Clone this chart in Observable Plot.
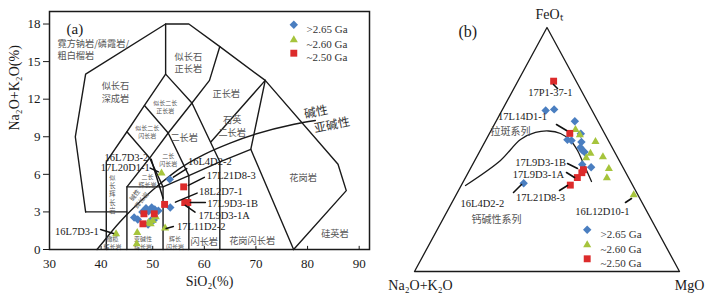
<!DOCTYPE html>
<html><head><meta charset="utf-8">
<script src="https://cdn.jsdelivr.net/npm/d3@7"></script>
<script src="https://cdn.jsdelivr.net/npm/@observablehq/plot@0.6"></script>
<style>
body{margin:0;background:#fff;}
#wrap{position:relative;width:712px;height:297px;overflow:hidden;background:#fff;}
#wrap svg{position:absolute;top:0;overflow:visible;}
</style></head><body><div id="wrap"></div>
<script>
// ---------------- shared ----------------
const groups = [">2.65 Ga", "~2.60 Ga", "~2.50 Ga"];
const groupColors = ["#4a7ec0", "#a6c43c", "#dc2b2b"];
const groupSymbols = ["diamond2", "triangle", "square"];
const groupR = [3.8, 3.0, 3.9];

// ---------------- panel (a): TAS ----------------
const xTicks = [30, 40, 50, 60, 70, 80, 90];
const yTicks = [0, 3, 6, 9, 12, 15, 18];

const oldSiO2 = [53.3, 53.4, 46.4, 47.1, 48.7, 49.2, 49.8, 50.4, 51.1, 48.0, 49.6, 50.2, 49.1];
const oldAlk  = [5.6, 3.35, 2.55, 2.4, 3.3, 3.05, 3.35, 3.2, 3.1, 3.0, 2.3, 2.35, 2.0];
const midSiO2 = [51.7, 52.4, 42.9, 47.0, 46.9, 49.2, 49.6, 50.0, 50.6];
const midAlk  = [6.1, 1.7, 1.25, 1.35, 0.45, 2.15, 2.05, 2.3, 2.6];
const youngSiO2 = [56.0, 52.3, 56.2, 56.8, 48.3, 50.3, 48.1];
const youngAlk  = [5.0, 3.6, 3.75, 3.75, 2.85, 2.85, 2.05];

// Middlemost (1994) plutonic TAS field boundaries (SiO2, Na2O+K2O)
const tasBoundaries = [
  [[37,3],[35,9],[37,14],[52.5,18],[57,18],[63,16.2],[71.8,13.5],[85.9,6.8],[87.5,4.7],[77.3,0]],
  [[41,0],[41,7],[45,9.4],[48.4,11.5],[52.5,14],[52.5,18]],
  [[37,3],[45,3]],
  [[45,0],[45,5],[49.4,7.3],[53,9.3],[57.6,11.7],[61,13.5],[63,16.2]],
  [[45,9.4],[49.4,7.3]],
  [[48.4,11.5],[53,9.3]],
  [[52.5,14],[57.6,11.7]],
  [[45,5],[52,5],[57,5.9],[63,7],[69,8],[71.8,13.5]],
  [[52,0],[52,5],[49.4,7.3]],
  [[57,0],[57,5.9],[53,9.3]],
  [[63,0],[63,7],[57.6,11.7]],
  [[69,8],[77.3,0]],
  [[71.8,13.5],[61.3,8.6]]
];
// alkaline / subalkaline divide
const irvineSiO2 = [39.2, 40, 43.2, 45, 48, 50, 53.7, 55, 60, 65, 77.4, 81.5];
const irvineAlk  = [0, 0.4, 2.0, 2.8, 4.0, 4.75, 6.0, 6.4, 7.6, 8.5, 10.0, 10.3];

const tasSampleLabels = [
  {t:"16L7D3-2", x:44.9, y:7.36}, {t:"17L20D1-1", x:44.7, y:6.56},
  {t:"16L4D2-2", x:61.05, y:7.04}, {t:"17L21D8-3", x:65.2, y:5.92},
  {t:"18L2D7-1", x:63.2, y:4.64}, {t:"17L9D3-1B", x:65.5, y:3.68},
  {t:"17L9D3-1A", x:63.85, y:2.72}, {t:"17L11D2-2", x:59.4, y:1.84},
  {t:"16L7D3-1", x:35.3, y:1.44}
];
const tasLeaders = [
  [[49.7,7.2],[52.0,4.1]], [[49.5,6.5],[51.1,6.2]],
  [[54.0,5.78],[56.6,6.46]], [[56.9,5.12],[60.0,5.76]],
  [[54.4,3.78],[58.6,4.5]], [[57.3,3.76],[60.2,3.76]],
  [[56.3,3.52],[58.2,2.98]], [[52.6,1.68],[54.0,1.84]],
  [[39.9,1.6],[42.4,1.28]]
];
const fieldNamesStart = [{t:"霓方钠岩/磷霞岩/\n粗白榴岩", x:31.55, y:16.0}];
const fieldNamesL = [
  {t:"似长石\n深成岩", x:42.77, y:12.6},
  {t:"似长石\n正长岩", x:56.9, y:14.96},
  {t:"二长岩", x:56.1, y:8.96},
  {t:"正长岩", x:64.24, y:12.48},
  {t:"石英\n二长岩", x:65.4, y:9.88},
  {t:"花岗岩", x:79.13, y:5.76},
  {t:"硅英岩", x:85.3, y:1.28},
  {t:"花岗闪长岩", x:69.26, y:0.72},
  {t:"闪长岩", x:59.98, y:0.64}
];
const fieldNamesS = [
  {t:"似长二长\n正长岩", x:52.44, y:11.44},
  {t:"似长二长\n闪长岩", x:48.96, y:9.4},
  {t:"橄榄\n辉长岩", x:42.2, y:0.55},
  {t:"辉长\n闪长岩", x:54.3, y:0.6},
  {t:"亚碱性\n辉长岩", x:48.1, y:0.6},
  {t:"二长\n辉长岩", x:49.0, y:5.5},
  {t:"二长\n闪长岩", x:53.0, y:7.2}
];
const fieldNamesV = [{t:"似\n长\n辉\n长\n岩", x:42.2, y:4.45}];
const fieldNamesR = [{t:"碱性\n辉长岩", x:47.1, y:4.15}];
const seriesNamesA = [{t:"碱性", x:81.64, y:10.96}, {t:"亚碱性", x:84.74, y:9.92}];

const serif = "'Liberation Serif','Times New Roman',serif";
const cjk = "'Noto Sans CJK SC','Noto Sans',sans-serif";

function pts(xs, ys) { return xs.map((x, i) => ({x, y: ys[i]})); }
const tasSets = [pts(oldSiO2, oldAlk), pts(midSiO2, midAlk), pts(youngSiO2, youngAlk)];
const boundaryRows = tasBoundaries.flatMap((l, i) => l.map(p => ({x: p[0], y: p[1], z: i})));
const leaderRowsA = tasLeaders.flatMap((l, i) => l.map(p => ({x: p[0], y: p[1], z: i})));

const legendDyA = [13.3, 28.3, 41.7];

const plotA = Plot.plot({
  width: 372, height: 297,
  marginLeft: 49, marginRight: 3, marginTop: 11, marginBottom: 48,
  x: {domain: [30, 92]},
  y: {domain: [0, 19]},
  style: {fontFamily: serif, fontSize: "13px", color: "#1a1a1a", background: "transparent"},
  marks: [
    Plot.line(boundaryRows, {x: "x", y: "y", z: "z", stroke: "#1a1a1a", strokeWidth: 1.4}),
    Plot.line(pts(irvineSiO2, irvineAlk), {x: "x", y: "y", stroke: "#1a1a1a", strokeWidth: 1.4, curve: "monotone-x"}),
    Plot.text(fieldNamesStart, {x: "x", y: "y", text: "t", textAnchor: "start", fontFamily: cjk, fontSize: 9.2, fill: "#555", lineHeight: 1.36}),
    Plot.text(fieldNamesL, {x: "x", y: "y", text: "t", fontFamily: cjk, fontSize: 9.2, fill: "#555", lineHeight: 1.36}),
    Plot.text(fieldNamesS, {x: "x", y: "y", text: "t", fontFamily: cjk, fontSize: 6, fill: "#555", lineHeight: 1.35}),
    Plot.text(fieldNamesV, {x: "x", y: "y", text: "t", fontFamily: cjk, fontSize: 6.3, fill: "#555", lineHeight: 1.3}),
    Plot.text(fieldNamesR, {x: "x", y: "y", text: "t", fontFamily: cjk, fontSize: 6.3, fill: "#555", lineHeight: 1.35, rotate: -52}),
    Plot.text(seriesNamesA, {x: "x", y: "y", text: "t", fontFamily: cjk, fontSize: 12, fill: "#333", rotate: -11}),
    ...tasSets.map((d, g) => Plot.dot(d, {x: "x", y: "y", symbol: groupSymbols[g], fill: groupColors[g], r: groupR[g], stroke: "none"})),
    Plot.line(leaderRowsA, {x: "x", y: "y", z: "z", stroke: "#111", strokeWidth: 1.5}),
    Plot.text(tasSampleLabels, {x: "x", y: "y", text: "t", fontFamily: serif, fontSize: 10.5, fill: "#1a1a1a"}),
    Plot.ruleX(xTicks, {x: d => d, y1: 0, y2: 0.25, stroke: "#1a1a1a"}),
    Plot.frame({stroke: "#1a1a1a", strokeWidth: 1.5}),
    Plot.axisX({ticks: xTicks, tickSize: 0, tickPadding: 9, label: null, fontSize: 13}),
    Plot.axisY({ticks: yTicks, tickSize: 6, tickPadding: 3, label: null, fontSize: 13}),
    Plot.text(["SiO₂(%)"], {frameAnchor: "bottom", dy: 36, fontFamily: serif, fontSize: 14, fill: "#1a1a1a"}),
    Plot.text(["Na₂O+K₂O(%)"], {frameAnchor: "left", dx: -35, rotate: -90, fontFamily: serif, fontSize: 14, fill: "#1a1a1a"}),
    Plot.text(["(a)"], {frameAnchor: "top-left", dx: 17, dy: 12, fontFamily: serif, fontSize: 15, fill: "#1a1a1a"}),
    ...groups.flatMap((g, i) => [
      Plot.dot([g], {frameAnchor: "top-left", dx: 244.3, dy: legendDyA[i], symbol: groupSymbols[i], fill: groupColors[i], r: groupR[i]}),
      Plot.text([g], {frameAnchor: "top-left", dx: 257, dy: legendDyA[i], text: d => d, textAnchor: "start", fontFamily: serif, fontSize: 11, fill: "#333"})
    ])
  ]
});

// ---------------- panel (b): AFM ternary ----------------
// A = Na2O+K2O, F = FeOt, M = MgO (%)
const oldA = [17.5, 14.1, 8.7, 9.0, 15.3, 13.9, 10.5, 12.0, 11.8, 11.4, 14.8, 12.0, 40.7];
const oldF = [66.0, 66.5, 61.6, 56.4, 54.0, 53.7, 53.1, 50.8, 49.7, 49.0, 43.9, 42.7, 36.2];
const oldM = [16.5, 19.5, 29.7, 34.5, 30.7, 32.4, 36.5, 37.2, 38.5, 39.7, 41.4, 45.3, 23.1];
const midA = [10.2, 9.6, 5.1, 9.4, 11.9, 5.4, 5.6, 8.2, 1.6];
const midF = [58.1, 56.0, 53.2, 48.4, 46.6, 47.0, 42.1, 38.4, 31.4];
const midM = [31.7, 34.4, 41.7, 42.2, 41.5, 47.6, 52.3, 53.4, 67.1];
const youngA = [8.5, 13.1, 15.4, 16.6, 19.3, 23.5];
const youngF = [78.0, 56.6, 41.7, 40.5, 38.5, 35.4];
const youngM = [13.5, 30.3, 42.9, 42.9, 42.2, 41.1];
// tholeiitic / calc-alkaline boundary
const irvineA = [63.1, 44.8, 32.95, 25.85, 20.64, 16.62, 14.28, 13.69, 14.1, 14.76];
const irvineF = [35.25, 45.5, 54.1, 56.97, 57.58, 56.56, 53.69, 49.59, 44.26, 36.89];
const irvineM = [1.63, 9.7, 12.95, 17.18, 21.78, 26.82, 32.03, 36.72, 41.64, 48.35];
const cornersA = [100, 0, 0, 100];
const cornersF = [0, 100, 0, 0];
const cornersM = [0, 0, 100, 0];

// annotations (in projected triangle coordinates)
const afmLabels = [
  {t:"17P1-37-1", x:0.513, y:0.734}, {t:"17L14D1-1", x:0.4075, y:0.633},
  {t:"17L9D3-1B", x:0.4755, y:0.4467}, {t:"17L9D3-1A", x:0.468, y:0.3975},
  {t:"17L21D8-3", x:0.4755, y:0.303}, {t:"16L4D2-2", x:0.2566, y:0.2787},
  {t:"16L12D10-1", x:0.7094, y:0.246}
];
const afmLeaders = [
  [[0.5245,0.7664],[0.5396,0.75]], [[0.5358,0.6025],[0.5736,0.5779]],
  [[0.5774,0.4426],[0.6151,0.4221]], [[0.5736,0.4057],[0.6038,0.3852]],
  [[0.5472,0.332],[0.5774,0.3525]], [[0.3736,0.3238],[0.4038,0.3566]],
  [[0.7962,0.2828],[0.8189,0.2992]]
];
const afmSeries = [{t:"拉斑系列", x:0.362, y:0.572}, {t:"钙碱性系列", x:0.309, y:0.213}];

function tern(As, Fs, Ms) {
  return As.map((a, i) => { const s = a + Fs[i] + Ms[i]; return {x: (Ms[i] + Fs[i] / 2) / s, y: Fs[i] / s}; });
}
const afmSets = [tern(oldA, oldF, oldM), tern(midA, midF, midM), tern(youngA, youngF, youngM)];
const leaderRowsB = afmLeaders.flatMap((l, i) => l.map(p => ({x: p[0], y: p[1], z: i})));
const legendDyB = [202.3, 217.3, 231.3];

const plotB = Plot.plot({
  width: 340, height: 297,
  marginLeft: 42, marginRight: 33, marginTop: 27, marginBottom: 26,
  x: {domain: [0, 1], axis: null},
  y: {domain: [0, 1], axis: null},
  style: {fontFamily: serif, fontSize: "13px", color: "#1a1a1a", background: "transparent"},
  marks: [
    Plot.line(tern(cornersA, cornersF, cornersM), {x: "x", y: "y", stroke: "#1a1a1a", strokeWidth: 1.3}),
    Plot.line(tern(irvineA, irvineF, irvineM), {x: "x", y: "y", stroke: "#1a1a1a", strokeWidth: 1.3, curve: "catmull-rom"}),
    ...afmSets.map((d, g) => Plot.dot(d, {x: "x", y: "y", symbol: groupSymbols[g], fill: groupColors[g], r: groupR[g], stroke: "none"})),
    Plot.line(leaderRowsB, {x: "x", y: "y", z: "z", stroke: "#111", strokeWidth: 1.6}),
    Plot.text(afmLabels, {x: "x", y: "y", text: "t", fontFamily: serif, fontSize: 10.5, fill: "#1a1a1a"}),
    Plot.text(afmSeries, {x: "x", y: "y", text: "t", fontFamily: cjk, fontSize: 10, fill: "#555"}),
    Plot.text([{x: 0.5, y: 1, t: "FeOₜ"}], {x: "x", y: "y", text: "t", dx: 2, dy: -13, fontFamily: serif, fontSize: 14, fill: "#1a1a1a"}),
    Plot.text([{x: 0, y: 0, t: "Na₂O+K₂O"}], {x: "x", y: "y", text: "t", dx: 6, dy: 14, fontFamily: serif, fontSize: 14, fill: "#1a1a1a"}),
    Plot.text([{x: 1, y: 0, t: "MgO"}], {x: "x", y: "y", text: "t", dx: 10, dy: 14, fontFamily: serif, fontSize: 14, fill: "#1a1a1a"}),
    Plot.text(["(b)"], {frameAnchor: "top-left", dx: 44, dy: -2, fontFamily: serif, fontSize: 16, fill: "#1a1a1a"}),
    ...groups.flatMap((g, i) => [
      Plot.dot([g], {frameAnchor: "top-left", dx: 172.7, dy: legendDyB[i], symbol: groupSymbols[i], fill: groupColors[i], r: groupR[i]}),
      Plot.text([g], {frameAnchor: "top-left", dx: 186, dy: legendDyB[i], text: d => d, textAnchor: "start", fontFamily: serif, fontSize: 11, fill: "#333"})
    ])
  ]
});

const wrap = document.getElementById("wrap");
plotA.style.left = "0px";
plotB.style.left = "372px";
wrap.appendChild(plotA);
wrap.appendChild(plotB);
</script></body></html>
